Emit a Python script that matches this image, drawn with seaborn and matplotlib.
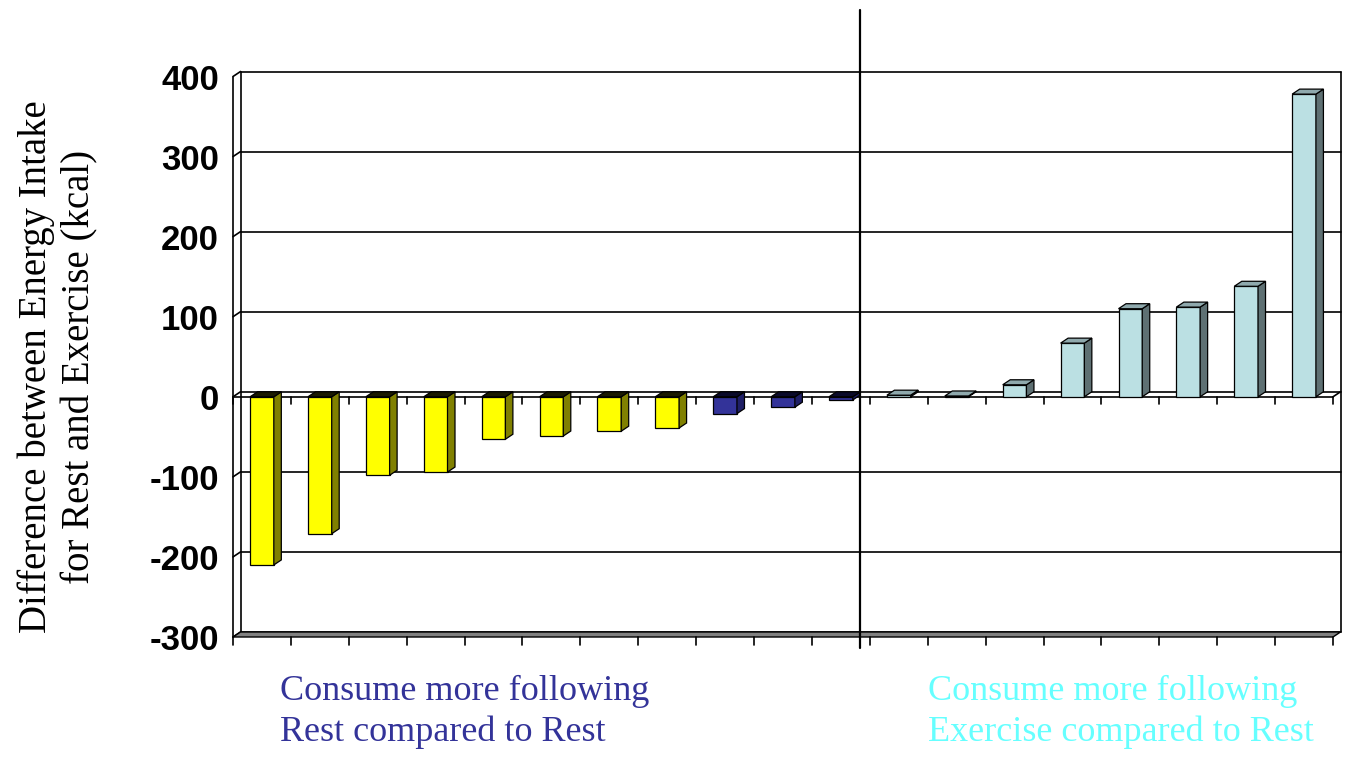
import matplotlib
matplotlib.use("Agg")
import matplotlib.pyplot as plt
from matplotlib.patches import Polygon
import seaborn as sns
import pandas as pd
import numpy as np

# Per-subject difference in energy intake (kcal), sorted
rest_more = [-210, -171, -98, -94, -53, -49, -43, -39, -21, -13, -4]
exercise_more = [2, 1, 15, 67, 110, 112, 138, 378]
groups = (["rest_large"] * 8 + ["rest_small"] * 3 + ["exercise"] * 8)
y_ticks = [-300, -200, -100, 0, 100, 200, 300, 400]

values = rest_more + exercise_more
subjects = [str(i + 1) for i in range(len(values))]
df = pd.DataFrame({"subject": subjects, "kcal": values, "group": groups})

front_colors = {"rest_large": "#FFFF00", "rest_small": "#333399", "exercise": "#BBE0E3"}
side_colors = {"rest_large": "#808000", "rest_small": "#1F1F66", "exercise": "#5E7073"}
top_colors = {"rest_large": "#1A1A00", "rest_small": "#0A0A2A", "exercise": "#8FA9AD"}

sns.set_style("white")
plt.rcParams["font.family"] = ["Liberation Sans", "DejaVu Sans"]

W, H = 1345, 757
fig = plt.figure(figsize=(W / 100, H / 100), dpi=100)
left_px, right_px, top_px, bot_px = 233, 1333, 76.5, 637
ax = fig.add_axes([left_px / W, 1 - bot_px / H, (right_px - left_px) / W, (bot_px - top_px) / H])

bar_w = 0.41
sns.barplot(data=df, x="subject", y="kcal", hue="group", palette=front_colors,
            dodge=False, width=bar_w, legend=False, edgecolor="black",
            linewidth=0.9, saturation=1, ax=ax, zorder=3)

n = len(values)
ax.set_xlim(-0.5, n - 0.5)
ax.set_ylim(y_ticks[0], y_ticks[-1])
for s in ax.spines.values():
    s.set_visible(False)
ax.set_xticks([])
ax.set_xlabel("")
ax.set_ylabel("")
ax.set_yticks(y_ticks)
ax.set_yticklabels([str(t) for t in y_ticks], fontsize=25, fontweight="bold", color="black")
ax.tick_params(axis="y", length=8, width=1.2, direction="out", pad=2, color="black",
               labelcolor="black")

# depth offset (pixels) converted to data units
px_x = (right_px - left_px) / n
px_y = (bot_px - top_px) / (y_ticks[-1] - y_ticks[0])
dx = 7.5 / px_x
dy = 5.0 / px_y
x0, x1 = -0.5, n - 0.5
y0, y1 = y_ticks[0], y_ticks[-1]
lw = 1.2

# back wall gridlines and left wall links
for t in y_ticks:
    ax.plot([x0 + dx, x1 + dx], [t + dy, t + dy], color="black", lw=lw, zorder=1, clip_on=False)
    ax.plot([x0, x0 + dx], [t, t + dy], color="black", lw=lw, zorder=1, clip_on=False)
# wall edges
ax.plot([x0, x0], [y0, y1], color="black", lw=lw, zorder=1, clip_on=False)
ax.plot([x0 + dx, x0 + dx], [y0 + dy, y1 + dy], color="black", lw=lw, zorder=1, clip_on=False)
ax.plot([x1 + dx, x1 + dx], [y0 + dy, y1 + dy], color="black", lw=lw, zorder=1, clip_on=False)

# floor slab
floor = Polygon([(x0, y0), (x1, y0), (x1 + dx, y0 + dy), (x0 + dx, y0 + dy)],
                closed=True, facecolor="#808080", edgecolor="black", lw=1.0,
                zorder=2, clip_on=False)
ax.add_patch(floor)

# zero plane
ax.plot([x0, x1], [0, 0], color="black", lw=lw, zorder=2, clip_on=False)
ax.plot([x1, x1 + dx], [0, dy], color="black", lw=lw, zorder=2, clip_on=False)

# category ticks at zero level and at the floor
tick_down = 8 / px_y
for b in np.arange(n + 1) - 0.5:
    ax.plot([b, b], [0, -tick_down * 0.85], color="black", lw=lw, zorder=2, clip_on=False)
    ax.plot([b, b], [y0, y0 - tick_down], color="black", lw=lw, zorder=2, clip_on=False)

# side and top faces of each column
for patch, g, v in zip(ax.patches, groups, values):
    xl = patch.get_x()
    xr = xl + patch.get_width()
    side = Polygon([(xr, 0), (xr, v), (xr + dx, v + dy), (xr + dx, dy)], closed=True,
                   facecolor=side_colors[g], edgecolor="black", lw=0.9, zorder=3)
    ax.add_patch(side)
    ytop = max(v, 0)
    top = Polygon([(xl, ytop), (xr, ytop), (xr + dx, ytop + dy), (xl + dx, ytop + dy)],
                  closed=True, facecolor=top_colors[g], edgecolor="black", lw=0.9, zorder=4)
    ax.add_patch(top)

# divider between the two groups
n_rest = len(rest_more)
div_x = (n_rest - 1) + 0.33
ax.axvline(div_x, ymin=(bot_px - 648) / (bot_px - top_px), ymax=(bot_px - 10) / (bot_px - top_px),
           color="black", lw=1.6, zorder=5, clip_on=False)

serif = ["Liberation Serif", "DejaVu Serif"]
fig.text(58 / W, 1 - 367 / H, "Difference between Energy Intake\nfor Rest and Exercise (kcal)",
         rotation=90, ha="center", va="center", multialignment="center",
         fontsize=28, family=serif, color="black", linespacing=1.2)
fig.text(280 / W, 1 - 675 / H, "Consume more following\nRest compared to Rest",
         ha="left", va="top", fontsize=26, family=serif, color="#333399", linespacing=1.3)
fig.text(928 / W, 1 - 675 / H, "Consume more following\nExercise compared to Rest",
         ha="left", va="top", fontsize=26, family=serif, color="#66FFFF", linespacing=1.3)

fig.savefig("out.png", dpi=100)
